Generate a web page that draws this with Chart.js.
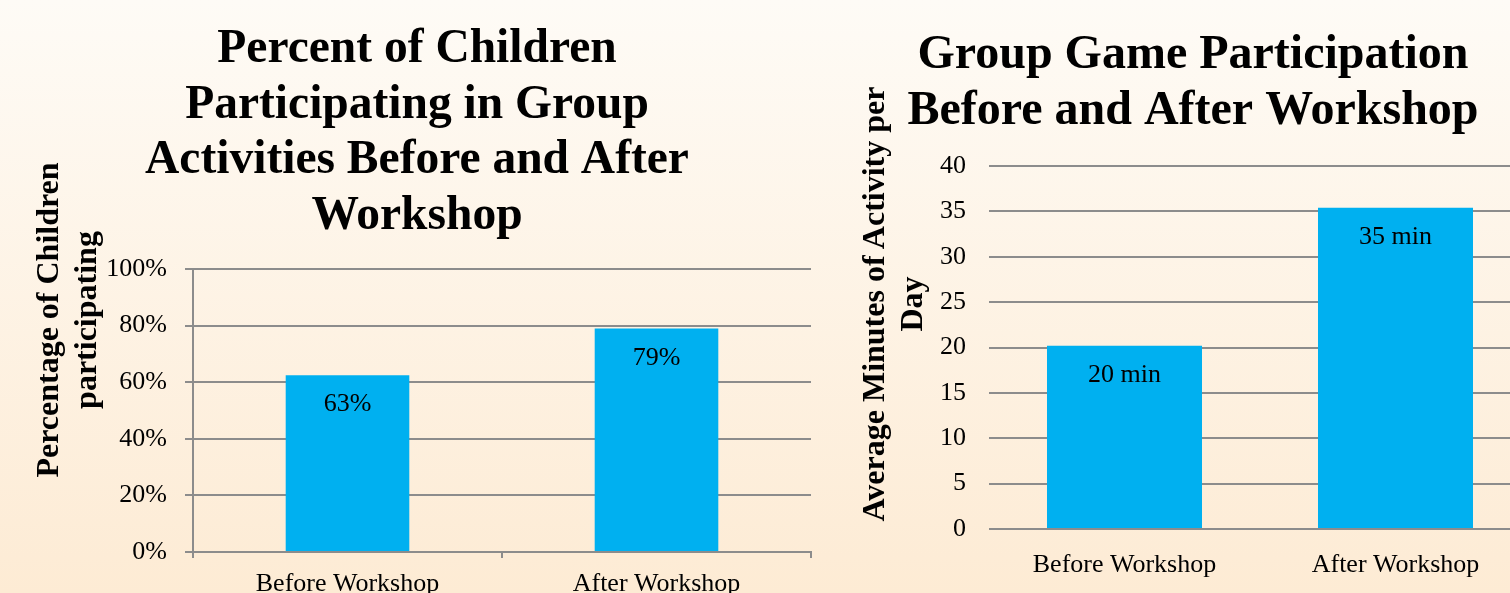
<!DOCTYPE html>
<html>
<head>
<meta charset="utf-8">
<script src="https://cdn.jsdelivr.net/npm/chart.js@4/dist/chart.umd.min.js"></script>
<style>
  html, body { margin: 0; padding: 0; }
  body {
    width: 1510px; height: 593px; overflow: hidden; position: relative;
    background: linear-gradient(to bottom, rgb(254,251,246) 0%, rgb(253,235,212) 100%);
    font-family: "Liberation Serif", "Times New Roman", serif;
  }
  .box { position: absolute; }
  .ytitle {
    position: absolute; text-align: center; white-space: nowrap;
    font: bold 32px "Liberation Serif", "Times New Roman", serif;
    line-height: 38px; color: #000;
    transform: rotate(-90deg); transform-origin: 50% 50%;
  }
</style>
</head>
<body>
<div class="box" id="b1" style="left:0;top:0;width:834px;height:620px;"><canvas id="c1"></canvas></div>
<div class="box" id="b2" style="left:850px;top:0;width:686px;height:593px;"><canvas id="c2"></canvas></div>
<div class="ytitle" style="left:-134px;top:282px;width:400px;height:76px;">Percentage of Children<br>participating</div>
<div class="ytitle" style="left:642px;top:266px;width:500px;height:76px;">Average Minutes of Activity per<br>Day</div>
<script>
// ---- data ----
const categories = ["Before Workshop", "After Workshop"];
const percentValues = [62.5, 79];
const minuteValues = [20.2, 35.4];
const percentTicks = [0, 20, 40, 60, 80, 100];
const minuteTicks = [0, 5, 10, 15, 20, 25, 30, 35, 40];
const title1 = ["Percent of Children", "Participating in Group", "Activities Before and After", "Workshop"];
const title2 = ["Group Game Participation", "Before and After Workshop"];

const SERIF = '"Liberation Serif", "Times New Roman", serif';
const BAR = '#00B0F0';
const GRID = 'rgb(140,140,140)';

const barLabels = {
  id: 'barLabels',
  afterDatasetsDraw(chart, args, opts) {
    const ctx = chart.ctx;
    const meta = chart.getDatasetMeta(0);
    const data = chart.data.datasets[0].data;
    ctx.save();
    ctx.font = '26px ' + SERIF;
    ctx.fillStyle = '#000';
    ctx.textAlign = 'center';
    ctx.textBaseline = 'middle';
    meta.data.forEach((bar, i) => {
      ctx.fillText(opts.format(data[i]), bar.x, bar.y + 29.5);
    });
    ctx.restore();
  }
};

function makeChart(id, cfg) {
  return new Chart(document.getElementById(id), {
    type: 'bar',
    data: {
      labels: categories,
      datasets: [{
        data: cfg.values,
        backgroundColor: BAR,
        borderWidth: 0,
        categoryPercentage: 1,
        barPercentage: cfg.barPct
      }]
    },
    plugins: [barLabels],
    options: {
      responsive: true,
      maintainAspectRatio: false,
      animation: false,
      events: [],
      layout: { padding: { top: 0, left: cfg.padSide, right: cfg.padSide, bottom: 0 } },
      plugins: {
        legend: { display: false },
        tooltip: { enabled: false },
        title: {
          display: true,
          text: cfg.title,
          color: '#000',
          font: { family: SERIF, size: cfg.titleSize, weight: 'bold', lineHeight: cfg.titleLH / cfg.titleSize },
          padding: { top: cfg.titleTop, bottom: cfg.titleBottom }
        },
        barLabels: { format: cfg.fmt }
      },
      scales: {
        x: {
          afterFit: s => { s.height = cfg.xHeight; },
          grid: {
            display: cfg.xTicks, offset: true, drawOnChartArea: false,
            drawTicks: true, tickLength: 6, color: GRID, lineWidth: 2
          },
          border: { display: cfg.xTicks, color: GRID, width: 2 },
          ticks: { color: '#000', font: { family: SERIF, size: 26 }, padding: cfg.xPad, maxRotation: 0 }
        },
        y: {
          min: 0, max: cfg.max,
          afterFit: s => { s.width = cfg.yWidth; },
          afterBuildTicks: s => { s.ticks = cfg.ticks.map(v => ({ value: v })); },
          grid: {
            color: GRID, lineWidth: 2,
            drawTicks: cfg.yTickMarks, tickLength: 8
          },
          border: { display: cfg.yBorder, color: GRID, width: 2 },
          ticks: {
            color: '#000', font: { family: SERIF, size: 26 }, padding: cfg.yPad,
            callback: cfg.tickFmt
          }
        }
      }
    }
  });
}

makeChart('c1', {
  values: percentValues, barPct: 0.4, padSide: 23,
  title: title1, titleSize: 47.5, titleLH: 55.5, titleTop: 22, titleBottom: 25,
  fmt: v => Math.round(v) + '%',
  xHeight: 68, xTicks: true, xPad: 11,
  max: 100, ticks: percentTicks, yWidth: 170, yTickMarks: true, yBorder: true, yPad: 18,
  tickFmt: v => v + '%'
});

makeChart('c2', {
  values: minuteValues, barPct: 0.572, padSide: 5,
  title: title2, titleSize: 48, titleLH: 56, titleTop: 28, titleBottom: 26,
  fmt: v => Math.round(v) + ' min',
  xHeight: 64, xTicks: false, xPad: 15,
  max: 40, ticks: minuteTicks, yWidth: 134, yTickMarks: false, yBorder: false, yPad: 23,
  tickFmt: v => String(v)
});
</script>
</body>
</html>
